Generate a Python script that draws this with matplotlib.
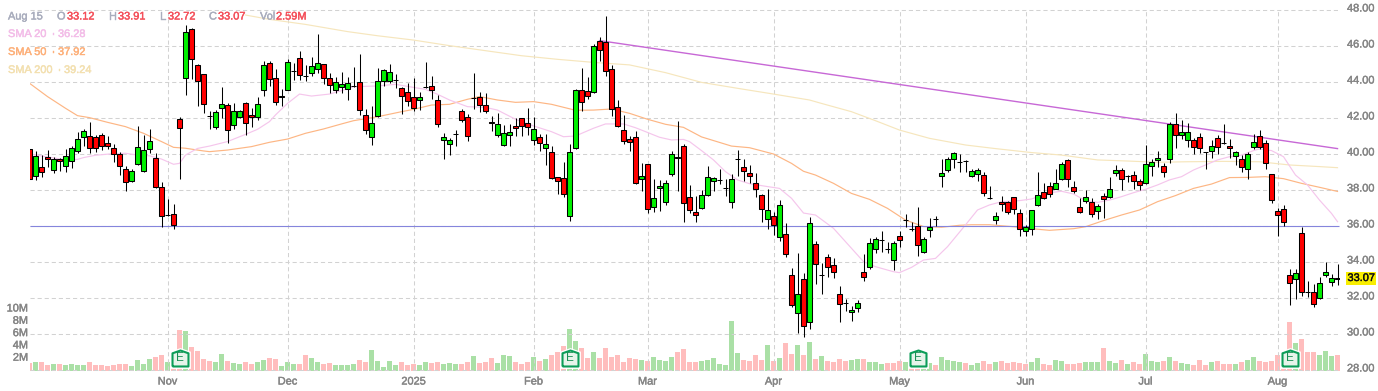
import matplotlib
matplotlib.use('Agg')
import matplotlib.pyplot as plt
import matplotlib.patheffects as pe

plt.rcParams['font.family'] = ['Liberation Sans', 'DejaVu Sans']

opens = [40.26,38.76,39.26,39.81,39.09,39.70,39.35,39.59,40.15,40.93,
         40.98,40.93,41.04,40.59,40.31,39.98,39.15,38.48,39.43,39.04,
         40.26,39.76,38.15,36.59,36.65,41.92,44.20,46.93,44.93,44.43,
         42.09,41.48,42.54,42.70,41.59,42.04,42.81,42.15,42.04,43.54,
         45.04,44.20,43.22,43.57,44.61,45.32,44.35,44.48,44.70,44.98,
         44.20,43.56,43.74,43.59,43.80,43.98,42.15,40.93,42.13,44.04,
         44.04,44.11,43.65,43.43,43.15,42.98,43.74,43.80,42.98,40.76,
         40.54,41.13,42.37,42.04,43.09,43.15,42.70,41.76,41.04,40.48,
         41.04,41.54,41.98,41.70,40.76,40.93,40.32,40.09,38.70,38.65,
         36.54,40.32,43.54,43.48,43.43,46.30,46.20,44.70,42.59,41.32,
         40.81,40.93,38.59,39.43,37.04,38.09,37.31,38.91,39.82,40.43,
         37.59,36.76,36.98,37.70,38.48,38.57,38.09,37.31,39.70,39.26,
         38.93,38.37,37.70,36.37,36.54,35.37,35.54,33.26,31.15,33.04,
         30.65,34.98,33.30,34.30,33.81,32.20,31.70,31.20,31.43,33.43,
         33.70,34.70,35.20,34.70,34.09,35.43,36.35,35.85,35.98,34.54,
         35.76,36.39,38.76,39.09,39.70,39.54,39.59,38.76,38.87,38.81,
         37.54,36.35,37.31,37.31,37.59,36.70,35.70,35.81,37.15,37.87,
         38.20,38.07,38.59,39.65,38.15,37.04,37.37,37.31,36.81,37.65,
         37.59,38.93,39.09,38.78,38.81,38.48,38.37,39.31,39.65,39.31,
         39.70,41.65,41.04,40.76,40.76,40.93,40.11,40.15,40.87,40.59,
         40.43,39.87,39.70,39.15,40.37,40.98,40.59,38.87,36.81,36.93,
         33.26,33.04,35.59,32.33,32.31,31.98,33.26,32.87,33.12]
closes = [38.59,39.87,38.98,39.70,39.70,39.59,39.87,40.31,40.81,41.30,
          40.31,40.31,40.43,40.46,40.02,39.31,38.43,39.04,40.37,40.20,
          40.70,38.15,36.54,36.59,36.04,41.43,46.76,45.30,44.04,42.76,
          42.09,42.35,42.76,41.32,42.37,42.37,41.70,42.04,42.76,44.93,
          44.15,42.87,43.18,45.09,44.61,44.41,44.31,44.87,45.04,44.24,
          43.85,43.98,43.87,43.93,43.76,42.43,41.32,41.70,44.04,44.65,
          44.54,44.11,43.24,42.93,42.54,43.15,43.74,43.57,41.65,40.93,
          40.76,41.13,41.87,40.98,43.09,42.70,42.37,41.72,41.65,41.15,
          41.20,41.43,41.54,41.48,41.37,40.59,40.54,38.65,38.48,37.76,
          40.09,43.54,42.87,43.20,45.98,45.80,44.59,42.48,41.54,40.70,
          40.65,38.37,38.76,36.93,37.54,38.20,38.37,39.98,39.78,37.26,
          36.87,36.59,37.70,38.70,38.65,38.57,38.09,38.59,39.70,39.04,
          38.76,38.04,36.93,36.87,36.04,37.15,34.43,31.59,32.20,30.42,
          36.15,33.87,33.26,33.70,33.43,31.65,31.70,31.31,31.70,33.15,
          35.04,35.26,35.20,34.70,35.04,35.20,36.31,35.85,34.93,35.26,
          35.93,36.39,38.96,39.70,40.04,39.54,39.59,39.07,39.09,37.81,
          37.54,36.54,37.20,36.76,36.93,35.81,35.93,36.87,37.70,37.54,
          37.76,38.37,39.43,38.59,37.93,36.76,37.59,36.65,37.09,37.48,
          38.04,39.09,38.59,38.78,38.48,38.26,39.43,39.54,39.76,38.98,
          41.65,41.04,41.20,41.20,40.37,40.31,40.11,40.43,40.37,40.59,
          40.31,40.09,39.26,39.98,40.65,40.37,39.48,37.43,36.59,36.20,
          32.81,33.37,32.31,32.33,31.65,32.81,33.43,33.09,33.07]
highs = [40.26,40.15,39.94,40.22,39.85,39.80,40.26,40.44,41.22,41.39,
         41.76,41.05,41.15,41.00,40.54,40.13,39.33,39.15,41.56,41.05,
         41.39,40.07,38.46,37.50,37.22,42.04,47.17,47.00,45.00,44.43,
         42.41,42.44,43.70,42.85,42.85,42.44,42.89,42.54,43.15,45.17,
         45.17,44.70,43.61,45.26,45.04,45.72,44.95,45.41,46.67,44.98,
         44.48,44.26,44.57,44.30,44.85,45.56,42.48,42.67,44.76,44.70,
         44.98,44.45,43.70,43.93,44.20,43.43,45.11,44.33,43.26,41.15,
         40.87,41.32,42.52,42.22,44.48,43.43,43.37,42.09,42.26,41.61,
         41.67,41.98,42.02,42.56,42.07,41.11,41.11,40.44,38.70,39.54,
         40.56,43.61,44.76,44.26,46.11,46.48,47.67,44.95,43.00,42.15,
         41.00,41.26,39.48,39.46,38.61,38.56,38.56,40.17,41.83,40.54,
         38.28,37.67,38.00,39.33,38.70,39.17,38.61,38.87,40.22,39.70,
         39.39,38.93,37.76,38.04,36.76,37.44,36.15,33.68,34.48,33.37,
         36.48,35.15,33.96,34.44,34.20,32.67,31.93,31.56,31.89,34.44,
         35.31,35.37,35.72,35.09,35.18,35.70,36.67,36.20,37.05,35.37,
         36.43,36.56,39.70,39.81,40.09,39.98,39.67,39.15,39.20,38.98,
         38.22,36.78,37.67,37.39,37.59,36.93,36.06,36.89,38.98,38.37,
         38.44,39.17,39.54,39.70,38.52,37.54,37.98,37.54,37.22,37.81,
         38.72,39.39,39.20,38.83,39.07,38.59,40.50,39.70,40.17,39.48,
         41.80,42.26,41.89,41.70,40.89,41.17,40.13,40.78,41.06,41.67,
         40.83,40.15,39.94,40.13,41.09,41.33,40.78,38.91,36.98,37.17,
         33.61,33.61,35.96,32.94,32.78,33.15,34.00,33.33,33.91]
lows = [38.59,38.57,38.74,39.30,38.96,39.05,39.02,39.24,40.07,40.44,
        40.04,40.13,40.22,40.28,39.57,38.83,37.96,38.43,39.39,39.02,
        40.04,38.13,35.93,36.55,35.85,38.61,43.28,44.15,42.67,42.26,
        41.41,41.41,41.98,40.59,41.37,42.02,41.06,41.52,41.89,43.24,
        43.78,42.74,42.67,43.57,44.11,44.11,44.07,44.33,44.48,43.89,
        43.41,43.41,43.37,43.00,43.70,42.17,41.11,40.50,42.07,43.78,
        43.93,43.65,42.22,42.67,42.39,42.44,43.65,43.06,41.52,39.74,
        39.96,40.46,41.80,40.74,42.52,42.35,42.30,41.30,40.96,40.44,
        40.46,41.02,41.00,41.07,40.48,40.19,39.39,38.61,37.78,37.63,
        36.30,40.30,42.41,43.06,43.41,45.19,44.35,42.13,41.48,40.54,
        40.19,38.33,37.96,36.70,36.78,36.85,37.17,38.80,37.93,36.24,
        36.70,36.24,36.93,37.67,37.96,38.35,37.69,37.02,38.78,38.52,
        38.41,37.63,36.24,35.81,35.50,35.19,34.30,31.52,30.07,29.81,
        30.30,32.78,32.22,33.15,33.13,30.68,31.30,30.72,31.24,32.96,
        33.59,34.52,34.57,34.52,33.55,34.81,35.93,35.72,34.33,34.52,
        35.41,36.00,38.18,39.02,39.20,39.02,39.02,38.70,38.52,37.68,
        37.48,36.11,36.83,36.67,36.65,35.46,35.46,35.50,37.11,37.48,
        37.63,38.04,38.54,38.18,37.81,36.70,37.26,36.52,36.39,36.43,
        37.54,38.80,38.00,38.46,38.05,38.00,38.31,38.80,39.30,38.74,
        39.48,40.35,40.83,40.37,39.98,40.07,39.15,39.80,39.98,40.57,
        39.76,39.39,39.02,38.59,40.28,40.28,39.17,37.26,35.46,36.00,
        31.63,31.96,32.13,32.07,31.52,31.93,33.19,32.69,32.72]

# volume in millions, g/r flag is the bar colour
volumes = [1.3,1.45,1.45,1.0,1.15,1.15,1.0,1.15,1.0,1.0,
           1.45,1.0,1.0,.8,1.0,1.15,1.15,.8,1.8,1.15,
           1.95,2.3,2.6,1.45,2.7,6.65,6.5,3.9,3.25,1.95,
           1.6,1.45,2.75,1.6,1.3,1.15,1.45,1.15,1.45,1.8,
           2.1,1.95,.8,1.45,1.15,1.15,2.6,2.1,1.45,1.15,
           1.3,1,1,1,1.15,1.8,1.45,3.4,1.6,.65,
           1.6,1,1.45,1,1.15,1,1.45,1.3,1.45,1.15,
           1.3,1.15,1.15,1.45,2.45,1.3,1.45,2.1,1.3,2.6,
           2.45,1.45,1.15,1.45,2.3,1.6,1.95,2.6,3.1,4.05,
           6.85,4.9,3.75,2.1,3.1,2.1,3.75,2.3,2.6,1.45,
           2.1,1.95,1.8,1.6,2.3,1.8,1.6,2.3,3.1,3.6,
           1.45,1.45,1.6,1.8,2.1,1.15,1,8.15,2.9,1.8,
           1.6,2.6,1.8,4.25,1.6,2.1,4.55,2.75,4.25,2.6,
           4.7,1.95,2.45,1.6,1.45,1.95,1.6,1.8,1.95,1.95,
           1.45,1.45,1.15,1.3,1.3,1.6,1.45,1.25,1.25,1.25,
           1.3,1,2.3,1.8,1.6,1.45,1.3,1,1.3,1.6,
           1.15,1.45,1.6,1.3,1.45,1.3,1.15,1.45,2.15,1.15,
           1,1.75,1.6,1.15,1.15,1.3,1.45,1.45,1.45,3.75,
           1.6,1.3,1.8,1.15,1.45,1.15,2.75,1.6,1.45,1.6,
           2.3,1.6,1.3,1.15,1,1.8,1,1.45,1.6,1.15,
           1.15,1.15,1.45,1.8,2.3,1.6,1.45,1.6,2.6,2.15,
           8,4.55,5.2,3.1,3.1,2.6,3.25,2.45,2.59]
volume_flags = ("rgrrgrgggg" "rrrrrrrggg" "grrgrrgrrr" "rggrggrrgg" "rrgggrrggr"
                "rggggrrggg" "ggrrrggrrg" "ggrrgrrrgg" "grrrgrgrrr" "ggrrgrrrrr"
                "rrgrggggrr" "rrgggggggr" "rrrgrgrrgr" "grgrrrrggr" "gggrrrgrrg"
                "grggggrggr" "rgrrrrrggr" "rggrrrgggr" "ggrgrrgggr" "grggrrrgrr"
                "rgrggrrrrr" "rgrrrgggr")

sma20_x = [0,1,6,8,9,11,14,16,18,20,22,24,25,26,28,30,33,36,38,40,41,43,45,47,50,52,
           54,58,61,64,66,68,70,73,76,78,81,84,87,89,91,94,96,99,101,102,105,107,109,110,
           112,114,116,118,120,123,125,127,129,131,134,137,139,141,144,145,147,149,151,153,
           156,158,160,162,165,167,170,172,174,176,178,180,182,184,186,188,190,192,194,196,
           198,200,202,204,205,207,209,211,213,215,217,218]
sma20 = [40.00,39.95,39.67,39.70,39.80,39.93,40.02,40.04,39.94,39.90,39.72,39.43,39.48,39.94,40.31,40.44,40.69,41.09,41.37,41.80,42.17,42.81,43.33,43.22,43.33,43.52,
         43.74,43.78,43.87,43.70,43.59,43.32,43.00,42.63,42.59,42.44,41.93,41.56,41.24,40.96,41.00,41.43,41.67,41.67,41.46,41.33,40.93,40.78,40.81,40.69,
         40.19,39.67,39.02,38.56,38.35,38.19,38.09,37.54,36.72,36.61,35.87,34.76,34.02,33.74,33.46,33.41,33.70,34.11,34.20,34.85,
         36.06,36.89,37.17,37.35,37.41,37.50,37.85,37.93,37.78,37.41,37.31,37.44,37.63,37.85,38.04,38.28,38.56,38.74,39.11,39.39,
         39.67,39.85,39.94,40.19,40.28,40.19,39.85,38.83,38.28,37.44,36.70,36.24]

sma50_x = [0,3,6,8,10,13,16,19,22,24,26,29,30,33,37,40,43,46,49,52,
           54,58,62,64,67,70,73,75,78,81,84,87,91,94,97,100,103,106,109,112,
           117,120,124,127,129,131,134,137,140,143,146,149,152,155,157,160,164,167,170,174,
           176,179,182,185,188,191,194,197,200,203,206,209,212,215,218]
sma50 = [43.93,43.19,42.54,42.13,42.02,41.76,41.52,41.15,40.69,40.37,40.32,40.17,40.13,40.22,40.41,40.65,40.83,41.15,41.39,41.67,
         41.85,42.07,42.35,42.48,42.72,42.76,43.04,43.19,43.00,42.87,42.91,42.76,42.43,42.44,42.50,42.26,41.93,41.65,41.48,40.95,
         40.44,40.35,40.00,39.48,39.04,38.83,38.37,37.81,37.48,36.98,36.33,35.97,35.93,36.04,36.07,36.07,35.96,35.85,35.76,35.85,
         35.96,36.30,36.61,36.89,37.35,37.69,38.09,38.33,38.69,38.70,38.74,38.63,38.37,38.15,37.92]

sma200_x = [36,40,46,53,58,64,70,76,82,88,94,100,106,112,118,124,130,132,137,141,145,150,156,161,167,172,178,183,188,193,199,205,210,215,218]
sma200 = [47.72,47.48,47.20,46.80,46.57,46.33,46.02,45.74,45.46,45.26,45.09,44.95,44.52,43.98,43.65,43.33,43.00,42.81,42.35,41.85,41.33,40.87,40.50,40.30,40.08,39.94,39.67,39.61,39.54,39.57,39.59,39.57,39.39,39.30,39.24]

trend_x = [95, 218]
trend_y = [46.30, 40.30]
support_level = 36.0

price_ticks = [28, 30, 32, 34, 36, 38, 40, 42, 44, 46, 48]
volume_ticks = [2, 4, 6, 8, 10]
month_idx = [23, 43, 64, 84, 103, 124, 145, 166, 186, 208]
month_labels = ['Nov', 'Dec', '2025', 'Feb', 'Mar', 'Apr', 'May', 'Jun', 'Jul', 'Aug']
earnings_idx = [25, 90, 148, 210]

W, H = 1378, 391
fig = plt.figure(figsize=(W / 100, H / 100), dpi=100, facecolor='white')
left, right = 30, 1340
pos = [left / W, 0, (right - left) / W, 1]

# candle i is centred on pixel 29.5 + 6 * i, price p on pixel 370 - 18 * (p - 28)
ax_vol = fig.add_axes(pos, zorder=1)
ax = fig.add_axes(pos, zorder=2)
for a in (ax, ax_vol):
    a.set_xlim((left - 29.5) / 6, (right - 29.5) / 6)
    a.axis('off')
ax.set_ylim(28 - 21 / 18, 28 + 370 / 18)
ax_vol.set_ylim(-20 / 6.15, 371 / 6.15)

xs = list(range(len(opens)))
grid = dict(color='#d2d2d2', linewidth=0.75, linestyles=(0, (4, 2.8)), zorder=0)
ax.hlines(price_ticks, 0, 218.2, **grid)
ax.vlines(month_idx, 28, 48, **grid)

vol_colours = ['#aae0a6' if f == 'g' else '#ffbdbd' for f in volume_flags]
ax_vol.bar(xs, volumes, width=5 / 6, color=vol_colours, linewidth=0)

ax.plot(sma200_x, sma200, color='#f6e6bd', lw=0.85, zorder=1)
ax.plot(sma50_x, sma50, color='#fdb684', lw=0.85, zorder=1)
ax.plot(sma20_x, sma20, color='#f5c6ec', lw=0.85, zorder=1)
ax.plot(trend_x, trend_y, color='#c768d6', lw=1.0, zorder=2)
ax.hlines(support_level, 0, 218.2, color='#8585dc', lw=0.8, zorder=2)

ax.vlines(xs, lows, highs, color='black', lw=0.75, zorder=3)
bottoms = [min(o, c) for o, c in zip(opens, closes)]
heights = [abs(o - c) for o, c in zip(opens, closes)]
colours = ['#00f000' if c > o else '#ff0000' for o, c in zip(opens, closes)]
ax.bar(xs, heights, bottom=bottoms, width=4.2 / 6, color=colours, edgecolor='black', linewidth=0.75, zorder=4)

# earnings badges
badge = [(-1, -1), (1, -1), (1, 0.65), (0, 1), (-1, 0.65), (-1, -1)]
badge_y = [28.67] * len(earnings_idx)
ax.plot(earnings_idx, badge_y, ls='', marker=badge, ms=15, mfc='white', mec='white', mew=0, zorder=5)
ax.plot(earnings_idx, badge_y, ls='', marker=badge, ms=11.5, mfc='#e6f4ea', mec='#0b9d58', mew=1.5, zorder=6)
for i in earnings_idx:
    ax.text(i, 28.67, 'E', color='#1a8f55', fontsize=8.5, ha='center', va='center', zorder=7)

grey = '#858585'
def label(x, y, s, color=grey, **kw):
    t = fig.text(x / W, 1 - y / H, s, color=color, fontsize=7.9, va='center', **kw)
    t.set_path_effects([pe.withStroke(linewidth=0.3, foreground=color)])
    return t

for p in price_ticks:
    label(1347, 370 - 18 * (p - 28) - 1.5, '%.2f' % p)
for v in volume_ticks:
    label(28, 371 - 6.15 * v - 1, '%dM' % v, ha='right')
for i, s in zip(month_idx, month_labels):
    label(29.5 + 6 * i, 381.5, s, ha='center')

fig.patches.append(plt.Rectangle((1346 / W, 1 - 284.5 / H), 30 / W, 13 / H, transform=fig.transFigure, fc='#f8ee00', ec='none', figure=fig))
label(1347.5, 278, '33.07', '#111111')

muted = '#a9adbd'
red = '#f4505a'
label(8, 16.5, 'Aug 15', muted)
for x, s in [(57, 'O'), (109, 'H'), (160, 'L'), (209, 'C'), (260, 'Vol')]:
    label(x, 16.5, s, muted)
for x, s in [(67, '33.12'), (118, '33.91'), (168, '32.72'), (218, '33.07'), (276, '2.59M')]:
    label(x, 16.5, s, red)
for y, name, val, x, c in [(34, 'SMA 20', '36.28', 58, '#f3bde8'), (52, 'SMA 50', '37.92', 58, '#fdb07a'), (70, 'SMA 200', '39.24', 64, '#f3e0b0')]:
    label(8, y, name, c)
    label(x - 6, y, '·', c)
    label(x, y, val, c)

fig.savefig('out.png', dpi=100)
